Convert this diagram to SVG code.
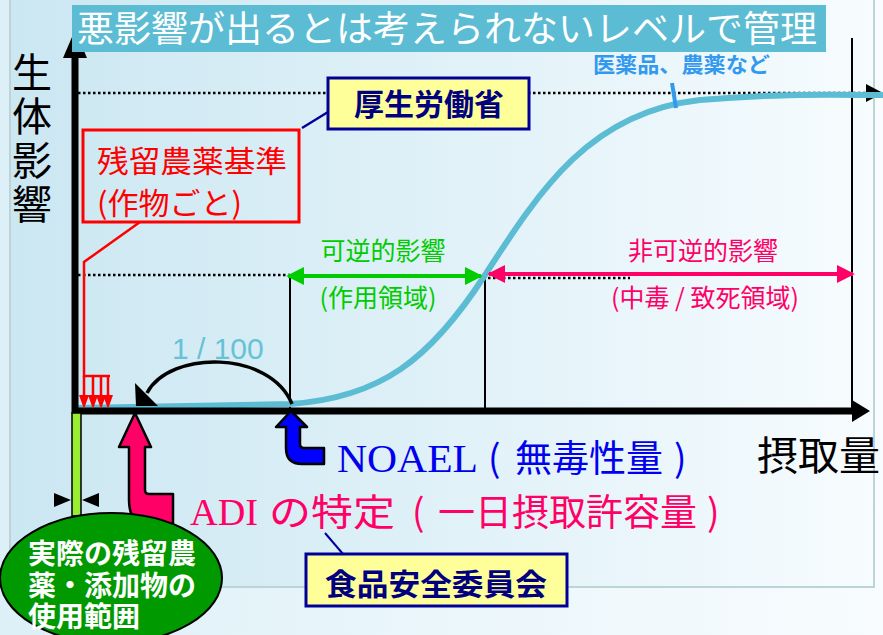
<svg xmlns="http://www.w3.org/2000/svg" width="883" height="635" viewBox="0 0 883 635">
<defs>
<linearGradient id="bg" x1="0" y1="0" x2="1" y2="0">
<stop offset="0" stop-color="#CBE7F2"/>
<stop offset="0.6" stop-color="#E4F3F9"/>
<stop offset="1" stop-color="#F7FCFE"/>
</linearGradient>
<linearGradient id="bg2" x1="0" y1="0" x2="1" y2="0">
<stop offset="0" stop-color="#DDF0F7"/>
<stop offset="1" stop-color="#F8FCFE"/>
</linearGradient>
<marker id="ahB" viewBox="0 0 10 10" refX="9" refY="5" markerWidth="4.5" markerHeight="4.5" orient="auto-start-reverse" markerUnits="strokeWidth"><path d="M0,0 L10,5 L0,10 Z" fill="#00CC00"/></marker>
<marker id="ahP" viewBox="0 0 10 10" refX="9" refY="5" markerWidth="4.5" markerHeight="4.5" orient="auto-start-reverse" markerUnits="strokeWidth"><path d="M0,0 L10,5 L0,10 Z" fill="#FF0066"/></marker>
</defs>
<style>
.jp{font-family:"Noto Sans CJK JP","Noto Sans",sans-serif;}
.ser{font-family:"Liberation Serif","Noto Sans CJK JP",serif;}
.thin{stroke:#000;stroke-width:2;fill:none;}
.dot{stroke:#000;stroke-width:2.5;stroke-dasharray:2.5 2.5;fill:none;}
.ybox{fill:#FFFF99;stroke:#000099;stroke-width:3;}
.ytxt{fill:#000080;font-weight:bold;}
</style>
<rect x="0" y="0" width="883" height="635" fill="url(#bg2)"/>
<rect x="10" y="-5" width="864" height="592" fill="url(#bg)" stroke="#BCD4D6" stroke-width="2"/>

<g id="connectors">
<line class="thin" x1="290" y1="276" x2="290" y2="410"/>
<line class="thin" x1="485" y1="272" x2="485" y2="410"/>
<line class="thin" x1="852" y1="38" x2="852" y2="410"/>
<line class="dot" x1="78" y1="93" x2="870" y2="93"/>
<polygon points="866,84 883,93 866,102" fill="#000"/>
<line class="dot" x1="78" y1="275" x2="290" y2="275"/>
<line class="dot" x1="488" y1="278" x2="630" y2="278"/>
<path d="M77,408 L290,404 C380,398 430,360 485,275 C540,190 590,112 700,100 C780,93 840,95 883,95" fill="none" stroke="#5BBCD3" stroke-width="6"/>
<line x1="288" y1="276" x2="481" y2="276" stroke="#00CC00" stroke-width="4" marker-start="url(#ahB)" marker-end="url(#ahB)"/>
<line x1="489" y1="274" x2="853" y2="274" stroke="#FF0066" stroke-width="4" marker-start="url(#ahP)" marker-end="url(#ahP)"/>
<line x1="75" y1="56" x2="75" y2="414" stroke="#000" stroke-width="7"/>
<polygon points="75,30 87,58 63,58" fill="#000"/>
<line x1="72" y1="411" x2="858" y2="411" stroke="#000" stroke-width="7"/>
<polygon points="870,411 852,400 852,422" fill="#000"/>
<path d="M292,404 C270,350 170,350 147,393" fill="none" stroke="#000" stroke-width="3.5"/>
<polygon points="135,383 136,406 158,406" fill="#000"/>
<line x1="672" y1="83" x2="676" y2="108" stroke="#3399EE" stroke-width="4"/>
<line x1="302" y1="128" x2="328" y2="112" stroke="#000099" stroke-width="2.5"/>
<line x1="325" y1="533" x2="343" y2="554" stroke="#000099" stroke-width="2"/>
<path d="M140,222 L84,262 L84,376 L110,376" fill="none" stroke="#FF0000" stroke-width="2.5"/>
<path d="M84,376 V396 M93,376 V396 M101,376 V396 M108,376 V396" fill="none" stroke="#FF0000" stroke-width="2.5"/>
<path d="M79,395 L89,395 L84,409 Z M88,395 L98,395 L93,409 Z M96,395 L106,395 L101,409 Z M103,395 L113,395 L108,409 Z" fill="#FF0000"/>
<rect x="72" y="413" width="9" height="103" fill="#99EE33" stroke="#000" stroke-width="1.5"/>
<polygon points="54,493 54,507 71,500" fill="#000"/>
<polygon points="99,493 99,507 82,500" fill="#000"/>
</g>

<g id="title">
<rect x="72" y="5" width="754" height="47" fill="#5BBCD3"/>
<text x="77" y="42" class="jp" font-size="36" fill="#FFFFFF" textLength="740" lengthAdjust="spacingAndGlyphs">悪影響が出るとは考えられないレベルで管理</text>
</g>

<g id="y-label">
<text x="32" y="52" class="jp" font-size="40" fill="#000" writing-mode="tb" letter-spacing="4">生体影響</text>
</g>

<g id="x-label">
<text x="757" y="470" class="jp" font-size="40" fill="#000" textLength="123" lengthAdjust="spacingAndGlyphs">摂取量</text>
</g>

<g id="drug-label">
<text x="593" y="72" class="jp" font-size="21" font-weight="bold" fill="#3399EE" textLength="177" lengthAdjust="spacingAndGlyphs">医薬品、農薬など</text>
</g>

<g id="mhlw">
<rect class="ybox" x="328" y="78" width="201" height="51"/>
<text x="429" y="115" class="jp ytxt" font-size="30" text-anchor="middle">厚生労働省</text>
</g>

<g id="residue-standard">
<rect x="83" y="130" width="216" height="92" fill="none" stroke="#FF0000" stroke-width="3"/>
<text x="97" y="172" class="jp" font-size="30" fill="#FF0000" textLength="190" lengthAdjust="spacingAndGlyphs">残留農薬基準</text>
<text x="97" y="214" class="jp" font-size="30" fill="#FF0000" textLength="145" lengthAdjust="spacingAndGlyphs">(作物ごと)</text>
</g>

<g id="reversible" class="jp" font-size="25" fill="#00CC00" text-anchor="middle">
<text x="383" y="260">可逆的影響</text>
<text x="378" y="307">(作用領域)</text>
</g>

<g id="irreversible" class="jp" font-size="25" fill="#FF0066" text-anchor="middle">
<text x="703" y="260">非可逆的影響</text>
<text x="705" y="307">(中毒 / 致死領域)</text>
</g>

<g id="one-hundredth">
<text x="172" y="359" font-family="Liberation Sans, Arial, sans-serif" font-size="30" fill="#66C2D6">1 / 100</text>
</g>

<g id="noael">
<path d="M291,411 L307,427 L300,427 L300,444 Q300,448 304,448 L324,448 L324,464 L302,464 Q286,464 286,448 L286,427 L276,427 Z" fill="#0000FF" stroke="#000" stroke-width="2.5" stroke-linejoin="round"/>
<text x="337" y="472" class="ser" font-size="40" fill="#0000EE" textLength="141" lengthAdjust="spacingAndGlyphs">NOAEL</text>
<text x="488" y="472" class="jp" font-size="37" fill="#0000EE">(</text>
<text x="515" y="472" class="jp" font-size="37" fill="#0000EE" textLength="148" lengthAdjust="spacingAndGlyphs">無毒性量</text>
<text x="674" y="472" class="jp" font-size="37" fill="#0000EE">)</text>
</g>

<g id="adi">
<path d="M135,413 L151,447 L145,447 L145,490 Q145,494 149,494 L173,494 L173,525 L150,525 Q129,525 129,500 L129,447 L119,447 Z" fill="#FF0066" stroke="#000" stroke-width="2.5" stroke-linejoin="round"/>
<text x="190" y="525" class="ser" font-size="38" fill="#FF0066" textLength="68" lengthAdjust="spacingAndGlyphs">ADI</text>
<text x="269" y="526" class="jp" font-size="37" fill="#FF0066" textLength="126" lengthAdjust="spacingAndGlyphs">の特定</text>
<text x="412" y="526" class="jp" font-size="37" fill="#FF0066">(</text>
<text x="438" y="526" class="jp" font-size="37" fill="#FF0066" textLength="259" lengthAdjust="spacingAndGlyphs">一日摂取許容量</text>
<text x="707" y="526" class="jp" font-size="37" fill="#FF0066">)</text>
</g>

<g id="fsc">
<rect class="ybox" x="306" y="554" width="261" height="52"/>
<text x="436" y="595" class="jp ytxt" font-size="30" text-anchor="middle" textLength="222" lengthAdjust="spacingAndGlyphs">食品安全委員会</text>
</g>

<g id="usage-range">
<ellipse cx="111" cy="578" rx="111" ry="65" fill="#009900" stroke="#000" stroke-width="2"/>
<text class="jp" font-size="28" font-weight="bold" fill="#FFFFFF"><tspan x="28" y="564">実際の残留農</tspan><tspan x="28" y="596">薬・添加物の</tspan><tspan x="28" y="627">使用範囲</tspan></text>
</g>
</svg>
